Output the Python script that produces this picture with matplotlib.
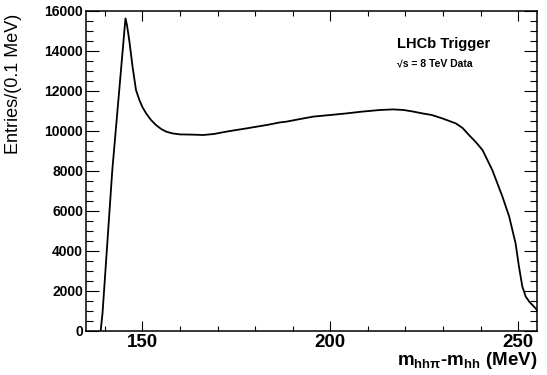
import matplotlib
matplotlib.use("Agg")
import matplotlib.pyplot as plt
from matplotlib.ticker import MultipleLocator

plt.rcParams['font.family'] = ['Liberation Sans', 'DejaVu Sans']
plt.rcParams['mathtext.fontset'] = 'custom'
plt.rcParams['mathtext.bf'] = 'Liberation Sans:bold'
plt.rcParams['mathtext.rm'] = 'Liberation Sans:bold'
plt.rcParams['mathtext.it'] = 'Liberation Sans:bold'
plt.rcParams['mathtext.default'] = 'bf'

# delta mass (MeV) and entries per 0.1 MeV
dm = [138.9, 139.4, 142.0, 145.5, 145.9, 146.5, 147.4, 148.3, 149.2, 150.0,
      151.0, 152.3, 153.6, 155.0, 156.3, 158.0, 160.0, 163.0, 166.2, 169.0,
      172.4, 175.0, 177.7, 180.5, 183.1, 186.6, 188.4, 192.0, 195.5, 200.0,
      204.3, 208.5, 213.2, 216.7, 219.5, 222.1, 224.5, 227.0, 229.8, 233.4,
      235.2, 236.9, 238.7, 240.5, 243.1, 245.8, 247.6, 249.3, 250.2, 251.1,
      252.0, 253.0, 253.8, 255.0]
entries = [0, 900, 8050, 15630, 15300, 14550, 13200, 12050, 11550, 11200,
           10880, 10550, 10300, 10100, 9970, 9880, 9830, 9820, 9800, 9850,
           9970, 10050, 10130, 10220, 10300, 10430, 10470, 10600, 10720, 10800,
           10880, 10970, 11050, 11080, 11050, 10970, 10880, 10800, 10630, 10380,
           10150, 9800, 9450, 9050, 8050, 6720, 5720, 4380, 3220, 2220,
           1720, 1450, 1300, 1050]

W, H = 547, 375
fig = plt.figure(figsize=(W/100, H/100), dpi=100)
ax = fig.add_axes([86/W, 44/H, 451/W, 320/H])

ax.plot(dm, entries, color='k', lw=1.3)

ax.set_xlim(135, 255)
ax.set_ylim(0, 16000)
ax.xaxis.set_major_locator(MultipleLocator(50))
ax.xaxis.set_minor_locator(MultipleLocator(10))
ax.yaxis.set_major_locator(MultipleLocator(2000))
ax.yaxis.set_minor_locator(MultipleLocator(500))

for s in ax.spines.values():
    s.set_linewidth(1.1)
ax.tick_params(which='both', direction='in', top=True, right=True, width=0.8)
ax.tick_params(axis='x', which='major', length=7, pad=2, labelsize=13.5)
ax.tick_params(axis='x', which='minor', length=3.5)
ax.tick_params(axis='y', which='major', length=9.5, pad=2, labelsize=10)
ax.tick_params(axis='y', which='minor', length=4.8)
for lab in ax.get_xticklabels() + ax.get_yticklabels():
    lab.set_fontweight('bold')

ax.set_ylabel('Entries/(0.1 MeV)', fontsize=13, loc='top')
ax.yaxis.set_label_coords(-0.142, 0.99)
ax.set_xlabel(r'$m_{hh\pi}$-$m_{hh}$ (MeV)', fontsize=13.5, fontweight='bold', loc='right')
ax.xaxis.set_label_coords(1.0, -0.058)

fig.text(397/W, 1 - 48/H, 'LHCb Trigger', fontsize=10.5, fontweight='bold', va='baseline')
fig.text(397/W, 1 - 66/H, '√s = 8 TeV Data', fontsize=7.5, fontweight='bold', va='baseline')

fig.savefig('out.png', dpi=100)
